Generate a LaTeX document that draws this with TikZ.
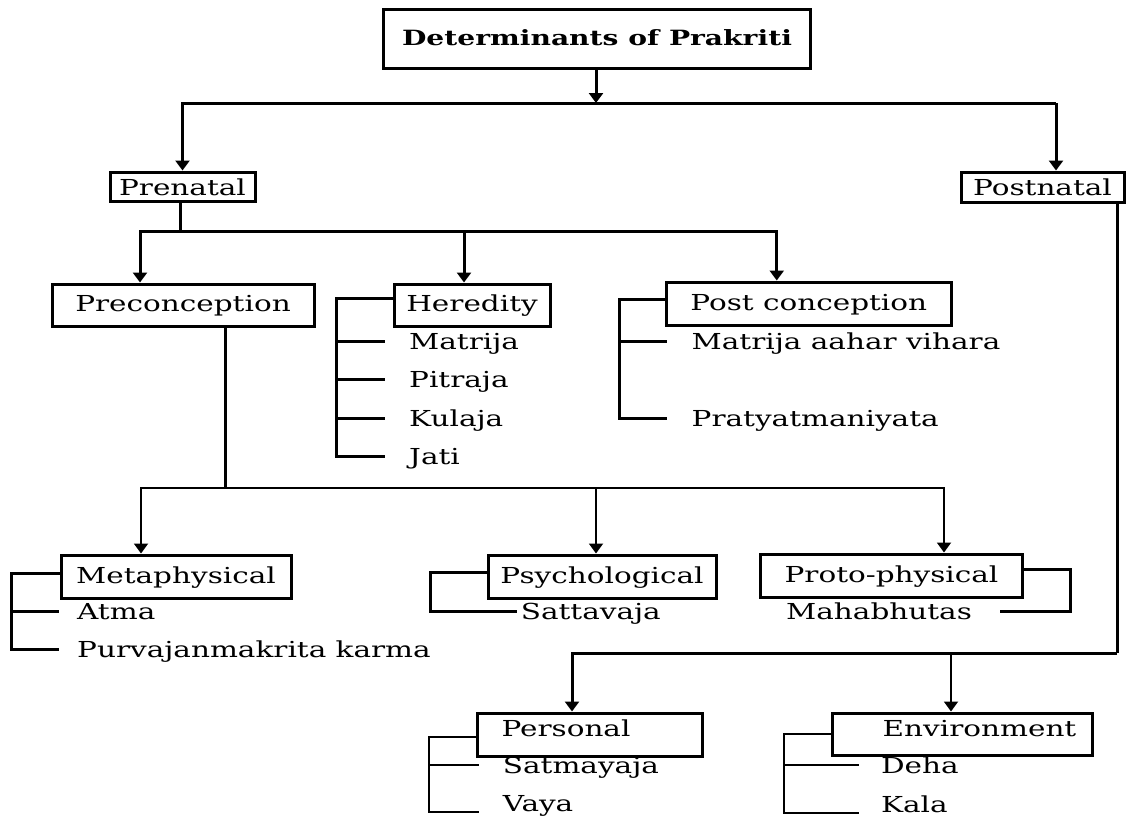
\documentclass[tikz,border=0pt]{standalone}
\usepackage{fontspec}
\setmainfont{DejaVu Serif}[FakeStretch=1.34]
\usetikzlibrary{arrows.meta}

\begin{document}
\begin{tikzpicture}[x=1pt,y=1pt,
  box/.style={draw, line width=3pt, inner sep=0pt, text height=17pt, text depth=4pt,
    font=\fontsize{22}{26}\selectfont},
  leaf/.style={anchor=west, inner sep=0pt, text height=16pt, text depth=0pt,
    font=\fontsize{22}{26}\selectfont},
  link/.style={line width=3pt},
  thinlink/.style={line width=1.9pt},
  arr/.style={-{Triangle[width=14pt,length=10pt]}}]
\useasboundingbox (0,0) rectangle (1126,-816);

\node[box, minimum width=427pt, minimum height=58pt, font=\fontsize{21}{25}\selectfont\bfseries] (det) at (597,-39) {Determinants of Prakriti};
\node[box, minimum width=145pt, minimum height=29pt, text depth=0pt] (pre) at (182.5,-186.5) {Prenatal};
\node[box, minimum width=163pt, minimum height=30pt, text depth=0pt] (post) at (1042.5,-187) {Postnatal};
\node[box, minimum width=262pt, minimum height=42pt] (precon) at (183,-305) {Preconception};
\node[box, minimum width=156pt, minimum height=42pt] (hered) at (472,-305) {Heredity};
\node[box, minimum width=285pt, minimum height=43pt] (postcon) at (808.75,-303.5) {Post conception};
\node[box, minimum width=230pt, minimum height=43pt] (meta) at (176,-576.5) {Metaphysical};
\node[box, minimum width=228pt, minimum height=43pt] (psych) at (602,-576.5) {Psychological};
\node[box, minimum width=262pt, minimum height=43pt] (proto) at (891.5,-575.5) {Proto-physical};
\node[box, minimum width=225pt, minimum height=43pt, text depth=13pt] (pers) at (590,-734.5) {Personal\hspace*{48pt}};
\node[box, minimum width=260pt, minimum height=42pt, text depth=13pt] (env) at (962,-734) {\hspace*{35pt}Environment};

\node[leaf] (matrija) at (409,-341) {Matrija};
\node[leaf] (pitraja) at (409,-379) {Pitraja};
\node[leaf] (kulaja) at (409,-418) {Kulaja};
\node[leaf] (jati) at (409,-456) {Jati};
\node[leaf] (aahar) at (691.5,-341) {Matrija aahar vihara};
\node[leaf] (pratya) at (691.5,-418) {Pratyatmaniyata};
\node[leaf] (atma) at (77,-611) {Atma};
\node[leaf] (purva) at (77,-649) {Purvajanmakrita karma};
\node[leaf] (satta) at (520.6,-611) {Sattavaja};
\node[leaf] (maha) at (786,-611) {Mahabhutas};
\node[leaf] (satmya) at (502.7,-765) {Satmayaja};
\node[leaf] (vaya) at (502.7,-803) {Vaya};
\node[leaf] (deha) at (880.8,-765) {Deha};
\node[leaf] (kala) at (880.8,-804) {Kala};

\coordinate (j1) at (596,-103);
\coordinate (j2) at (180,-231);
\coordinate (j3) at (225.5,-488);
\coordinate (j4) at (1117,-653);
\coordinate (posta) at ([xshift=13.5pt]post.north);
\coordinate (herda) at ([xshift=-8pt]hered.north);
\coordinate (psya) at ([xshift=-6pt]psych.north);
\coordinate (enva) at ([xshift=-11pt]env.north);
\coordinate (protob) at ([xshift=46.5pt]proto.east);

\draw[link,arr] (j1 |- det.south) -- (j1);
\draw[link,arr] (j1 -| posta) -| (pre.north);
\draw[link,arr] (j1 -| posta) -- (posta);

\draw[link] (j2 |- pre.south) -- (j2);
\draw[link,arr] (j2) -| ([xshift=-43pt]precon.north);
\draw[link,arr] (j2) -| ([xshift=-32pt]postcon.north);
\draw[link,arr] (j2 -| herda) -- (herda);

\draw[link] ([yshift=7pt]hered.west) -| ([xshift=-73pt]jati.west) -- ([xshift=-24pt]jati.west);
\foreach \n in {matrija,pitraja,kulaja}
  \draw[link] ([xshift=-73pt]\n.west) -- ([xshift=-24pt]\n.west);

\draw[link] ([yshift=4.5pt]postcon.west) -| ([xshift=-72.5pt]pratya.west) -- ([xshift=-24.5pt]pratya.west);
\draw[link] ([xshift=-72.5pt]aahar.west) -- ([xshift=-24.5pt]aahar.west);

\draw[link] (j3 |- precon.south) -- (j3);
\draw[thinlink,arr] (j3) -| ([xshift=-35pt]meta.north);
\draw[thinlink,arr] (j3) -| ([xshift=52.5pt]proto.north);
\draw[thinlink,arr] (j3 -| psya) -- (psya);

\draw[link] ([yshift=3.5pt]meta.west) -| ([xshift=-66pt]purva.west) -- ([xshift=-18pt]purva.west);
\draw[link] ([xshift=-66pt]atma.west) -- ([xshift=-18pt]atma.west);

\draw[link] ([yshift=4.5pt]psych.west) -| ([xshift=-90.6pt]satta.west) -- ([xshift=-3.6pt]satta.west);

\draw[link] ([yshift=6.5pt]proto.east) -| (protob |- maha.west) -- ([xshift=-71pt]protob |- maha.west);

\draw[link] (j4 |- post.south) -- (j4);
\draw[link,arr] (j4) -| ([xshift=-18pt]pers.north);
\draw[thinlink,arr] (j4 -| enva) -- (enva);

\draw[thinlink] ([yshift=-2.5pt]pers.west) -| ([shift={(-73.7pt,-9pt)}]vaya.west) -- ([shift={(-24pt,-9pt)}]vaya.west);
\draw[thinlink] ([xshift=-73.7pt]satmya.west) -- ([xshift=-24pt]satmya.west);

\draw[thinlink] (env.west) -| ([shift={(-96.8pt,-9pt)}]kala.west) -- ([shift={(-22pt,-9pt)}]kala.west);
\draw[thinlink] ([xshift=-96.8pt]deha.west) -- ([xshift=-22pt]deha.west);
\end{tikzpicture}
\end{document}
